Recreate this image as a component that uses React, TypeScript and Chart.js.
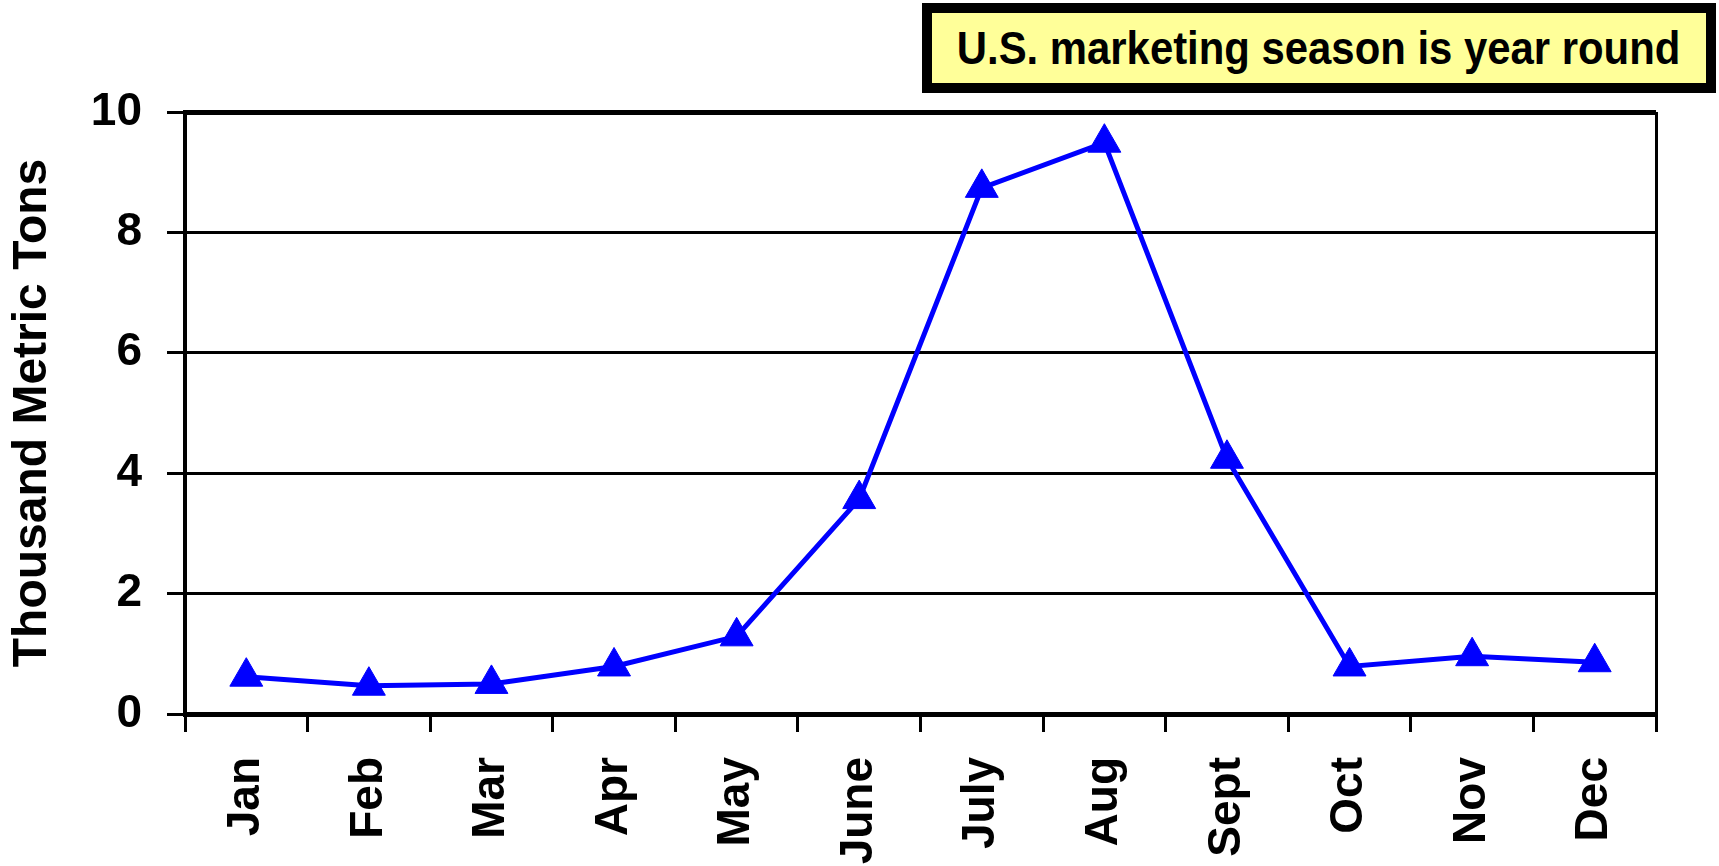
import React, { useEffect, useRef } from "react";
import { Chart, registerables } from "chart.js";

Chart.register(...registerables);

const months = ["Jan", "Feb", "Mar", "Apr", "May", "June", "July", "Aug", "Sept", "Oct", "Nov", "Dec"];
const tons = [0.62, 0.47, 0.5, 0.79, 1.29, 3.57, 8.74, 9.49, 4.24, 0.79, 0.96, 0.86];
const yMin = 0;
const yMax = 10;
const yStep = 2;
const yTitle = "Thousand Metric Tons";
const note = "U.S. marketing season is year round";

const FONT = "'Liberation Sans', Arial, Helvetica, sans-serif";

export default function App() {
  const canvasRef = useRef<HTMLCanvasElement | null>(null);

  useEffect(() => {
    const canvas = canvasRef.current;
    if (!canvas) return;
    const chart = new Chart(canvas, {
      type: "line",
      data: {
        labels: months,
        datasets: [
          {
            data: tons,
            borderColor: "#0000FF",
            backgroundColor: "#0000FF",
            borderWidth: 5,
            pointStyle: "triangle",
            pointRadius: 19,
            pointHoverRadius: 19,
            pointBorderWidth: 1,
            pointBackgroundColor: "#0000FF",
            pointBorderColor: "#0000FF",
            tension: 0,
            clip: false as any,
          },
        ],
      },
      options: {
        responsive: false,
        animation: false,
        layout: { padding: { top: 112, right: 63, left: 0, bottom: 0 } },
        plugins: {
          legend: { display: false },
          tooltip: { enabled: false },
          title: { display: false },
        },
        scales: {
          x: {
            offset: true,
            grid: {
              offset: true,
              drawOnChartArea: true,
              color: (ctx: any) => (ctx.type === "scale" ? "#000000" : "rgba(0,0,0,0)"),
              lineWidth: 3,
              tickColor: "#000000",
              tickWidth: 3,
              tickLength: 18,
            },
            border: { color: "#000000", width: 5 },
            ticks: {
              color: "#000000",
              font: { family: FONT, size: 46, weight: "bold" },
              minRotation: 90,
              maxRotation: 90,
              padding: 25,
              autoSkip: false,
            },
            afterFit: (s: any) => {
              s.height = 152;
            },
          },
          y: {
            min: yMin,
            max: yMax,
            ticks: {
              stepSize: yStep,
              color: "#000000",
              font: { family: FONT, size: 46, weight: "bold" },
              padding: 25,
            },
            grid: {
              color: "#000000",
              lineWidth: (ctx: any) => (ctx.tick && ctx.tick.value === yMax ? 5 : 3),
              tickColor: "#000000",
              tickWidth: 3,
              tickLength: 18,
            },
            border: { color: "#000000", width: 4 },
            title: {
              display: true,
              text: yTitle,
              color: "#000000",
              font: { family: FONT, size: 48, weight: "bold" },
              padding: { top: 4, bottom: 0 },
            },
            afterFit: (s: any) => {
              s.width = 185;
            },
          },
        },
      },
    });
    return () => {
      chart.destroy();
    };
  }, []);

  return (
    <div style={{ position: "absolute", left: 0, top: 0, width: 1719, height: 866, background: "#ffffff" }}>
      <canvas ref={canvasRef} width={1719} height={866} style={{ display: "block" }} />
      <div
        style={{
          position: "absolute",
          left: 922,
          top: 3,
          width: 794,
          height: 90,
          boxSizing: "border-box",
          border: "10px solid #000000",
          background: "#FFFF99",
          display: "flex",
          alignItems: "center",
          justifyContent: "center",
          color: "#000000",
          whiteSpace: "nowrap",
        }}
      >
        <span
          style={{
            display: "inline-block",
            fontFamily: FONT,
            fontWeight: "bold",
            fontSize: 46,
            lineHeight: 1,
            transform: "scaleX(0.91)",
            transformOrigin: "center center",
          }}
        >
          {note}
        </span>
      </div>
    </div>
  );
}
